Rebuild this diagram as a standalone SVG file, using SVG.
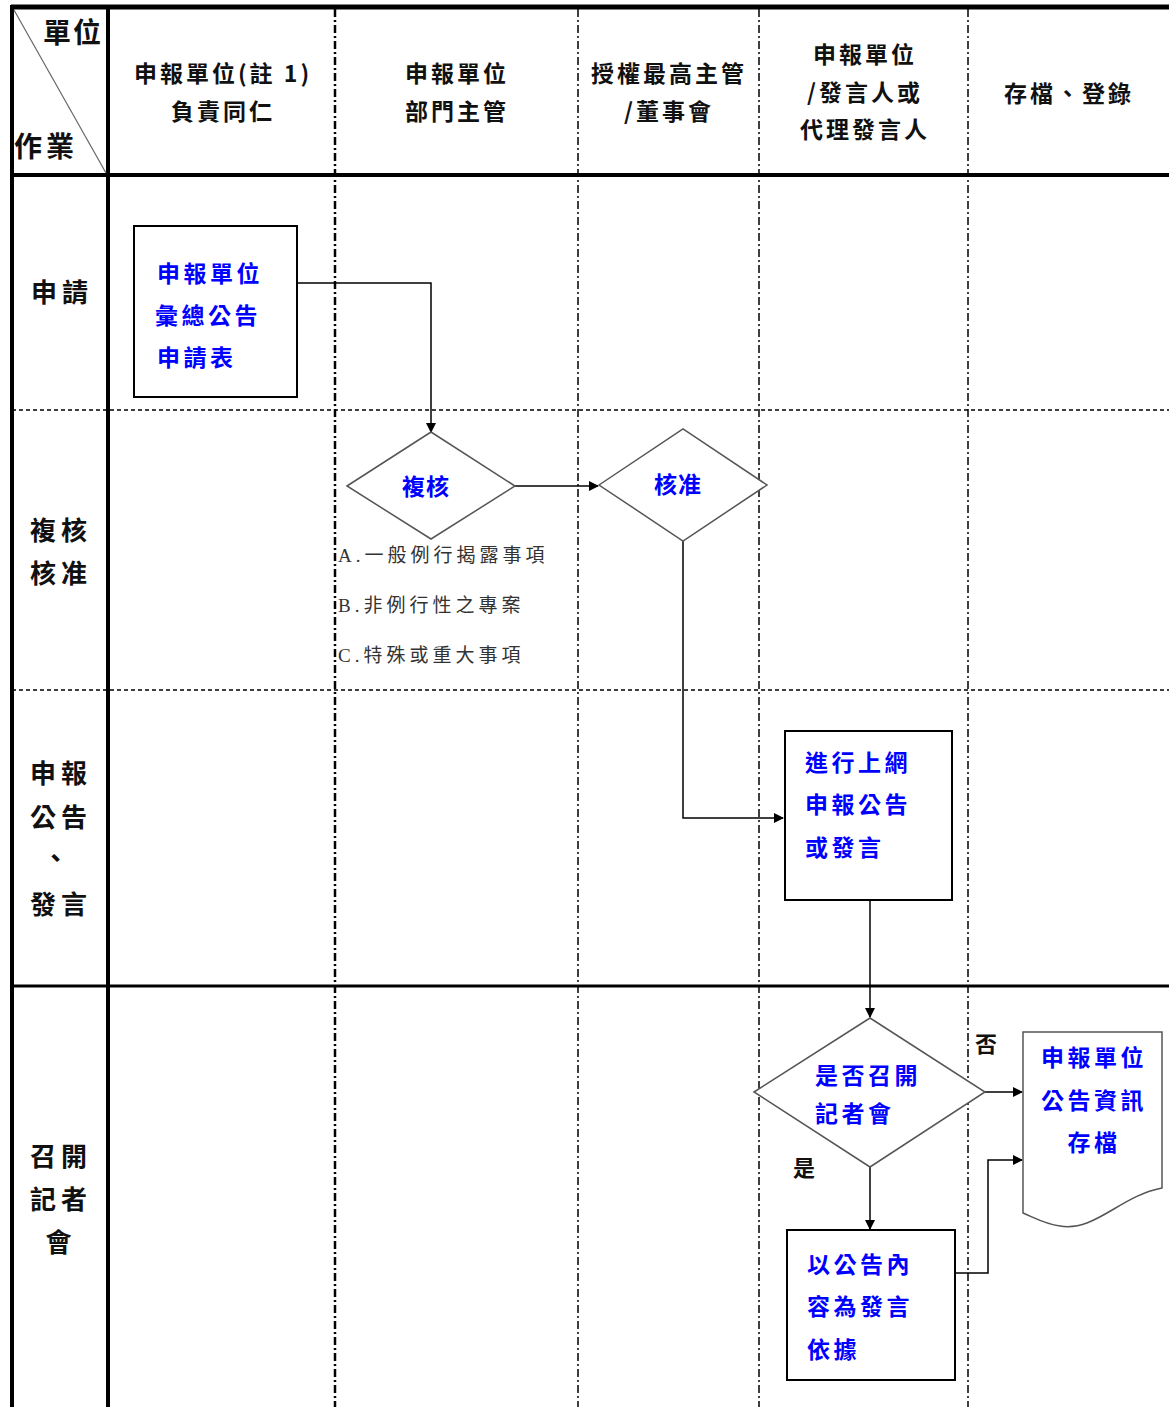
<svg xmlns="http://www.w3.org/2000/svg" width="1169" height="1407" viewBox="0 0 1169 1407">
<defs>
<marker id="arr" markerWidth="10" markerHeight="10" refX="9" refY="5" orient="auto" markerUnits="userSpaceOnUse">
<path d="M0,0 L10,5 L0,10 Z" fill="#000"/>
</marker>
<style>
.thick{stroke:#000;stroke-width:4;fill:none}
.dd{stroke:#000;stroke-width:1.5;stroke-dasharray:8 3 2 3;fill:none}
.dd2{stroke:#000;stroke-width:2.5;stroke-dasharray:8 3 2 3;fill:none}
.dot{stroke:#000;stroke-width:1.3;stroke-dasharray:4 3;fill:none}
.shape{fill:#fff;stroke:#000;stroke-width:2}
.dia{fill:#fff;stroke:#555;stroke-width:1.5}
.conn{stroke:#000;stroke-width:1.5;fill:none}
.hd{font-family:"Noto Sans CJK TC","Noto Sans CJK SC",sans-serif;font-weight:bold;font-size:23px;fill:#111;text-anchor:middle;letter-spacing:3px}
.rl{font-family:"Noto Sans CJK TC","Noto Sans CJK SC",sans-serif;font-weight:bold;font-size:26px;fill:#111;text-anchor:middle;letter-spacing:5px}
.bl{font-family:"Noto Sans CJK TC","Noto Sans CJK SC",sans-serif;font-weight:bold;font-size:23px;fill:#0000ff;letter-spacing:3.5px}
.note{font-family:"Liberation Serif","Noto Sans CJK TC",serif;font-size:19px;fill:#333;letter-spacing:4px}
.yn{font-family:"Noto Sans CJK TC","Noto Sans CJK SC",sans-serif;font-weight:bold;font-size:22px;fill:#111}
</style>
</defs>
<rect width="1169" height="1407" fill="#fff"/>
<g id="grid">
<line class="thick" x1="11" y1="7" x2="1169" y2="7" style="stroke-width:5"/>
<line class="thick" x1="12" y1="5" x2="12" y2="1407"/>
<line class="thick" x1="108" y1="5" x2="108" y2="1407"/>
<line class="thick" x1="11" y1="175" x2="1169" y2="175"/>
<line class="thick" x1="11" y1="986" x2="1169" y2="986" style="stroke-width:3"/>
<line stroke="#666" stroke-width="1.2" x1="14" y1="10" x2="106" y2="173"/>
<line class="dd2" x1="335" y1="9" x2="335" y2="1407"/>
<line class="dd" x1="578" y1="9" x2="578" y2="1407"/>
<line class="dd" x1="759" y1="9" x2="759" y2="1407"/>
<line class="dd" x1="968" y1="9" x2="968" y2="1407"/>
<line class="dot" x1="12" y1="410" x2="1169" y2="410"/>
<line class="dot" x1="12" y1="690" x2="1169" y2="690"/>
</g>
<g id="headers">
<text class="hd" x="73" y="43" style="font-size:28px;letter-spacing:2px">單位</text>
<text class="hd" x="46" y="157" style="font-size:28px;letter-spacing:4px">作業</text>
<text class="hd" x="223" y="82">申報單位(註 1)</text>
<text class="hd" x="223" y="120">負責同仁</text>
<text class="hd" x="457" y="82">申報單位</text>
<text class="hd" x="457" y="120">部門主管</text>
<text class="hd" x="669" y="82">授權最高主管</text>
<text class="hd" x="669" y="120">/董事會</text>
<text class="hd" x="865" y="63">申報單位</text>
<text class="hd" x="865" y="101">/發言人或</text>
<text class="hd" x="865" y="138">代理發言人</text>
<text class="hd" x="1069" y="102">存檔、登錄</text>
</g>
<g id="rowlabels">
<text class="rl" x="62" y="302">申請</text>
<text class="rl" x="61" y="540">複核</text>
<text class="rl" x="61" y="583">核准</text>
<text class="rl" x="61" y="783">申報</text>
<text class="rl" x="61" y="827">公告</text>
<text class="rl" x="58" y="868">、</text>
<text class="rl" x="61" y="914">發言</text>
<text class="rl" x="61" y="1166">召開</text>
<text class="rl" x="61" y="1209">記者</text>
<text class="rl" x="61" y="1252">會</text>
</g>
<g id="connectors">
<polyline class="conn" points="295,283 431,283 431,432" marker-end="url(#arr)"/>
<line class="conn" x1="515" y1="486" x2="598" y2="486" marker-end="url(#arr)"/>
<polyline class="conn" points="683,541 683,818 783,818" marker-end="url(#arr)"/>
<line class="conn" x1="870" y1="900" x2="870" y2="1017" marker-end="url(#arr)"/>
<line class="conn" x1="870" y1="1167" x2="870" y2="1229" marker-end="url(#arr)"/>
<line class="conn" x1="985" y1="1092" x2="1022" y2="1092" marker-end="url(#arr)"/>
<polyline class="conn" points="955,1273 988,1273 988,1160 1022,1160" marker-end="url(#arr)"/>
</g>
<g id="n-apply">
<rect class="shape" x="134" y="226" width="163" height="171"/>
<text class="bl" x="157" y="282">申報單位</text>
<text class="bl" x="155" y="324">彙總公告</text>
<text class="bl" x="157" y="366">申請表</text>
</g>
<g id="n-review">
<polygon class="dia" points="347,486 431,432 515,486 431,539"/>
<text class="bl" x="426" y="495" style="text-anchor:middle;letter-spacing:1px">複核</text>
</g>
<g id="n-note">
<text class="note" x="338" y="562">A.一般例行揭露事項</text>
<text class="note" x="338" y="612">B.非例行性之專案</text>
<text class="note" x="338" y="662">C.特殊或重大事項</text>
</g>
<g id="n-approve">
<polygon class="dia" points="599,485 683,429 767,485 683,541"/>
<text class="bl" x="678" y="493" style="text-anchor:middle;letter-spacing:1px">核准</text>
</g>
<g id="n-post">
<rect class="shape" x="785" y="731" width="167" height="169"/>
<text class="bl" x="805" y="771">進行上網</text>
<text class="bl" x="805" y="813">申報公告</text>
<text class="bl" x="805" y="856">或發言</text>
</g>
<g id="n-decide">
<polygon class="dia" points="754,1092 870,1018 985,1092 870,1167"/>
<text class="bl" x="815" y="1084">是否召開</text>
<text class="bl" x="815" y="1122">記者會</text>
</g>
<text class="yn" x="975" y="1052">否</text>
<text class="yn" x="793" y="1176">是</text>
<g id="n-archive">
<path class="dia" d="M1023,1032 L1162,1032 L1162,1188 C1120,1196 1095,1232 1060,1226 C1045,1224 1035,1218 1023,1213 Z"/>
<text class="bl" x="1094" y="1066" style="text-anchor:middle">申報單位</text>
<text class="bl" x="1094" y="1109" style="text-anchor:middle">公告資訊</text>
<text class="bl" x="1094" y="1151" style="text-anchor:middle">存檔</text>
</g>
<g id="n-basis">
<rect class="shape" x="787" y="1230" width="168" height="150"/>
<text class="bl" x="807" y="1273">以公告內</text>
<text class="bl" x="807" y="1315">容為發言</text>
<text class="bl" x="807" y="1358">依據</text>
</g>
</svg>
